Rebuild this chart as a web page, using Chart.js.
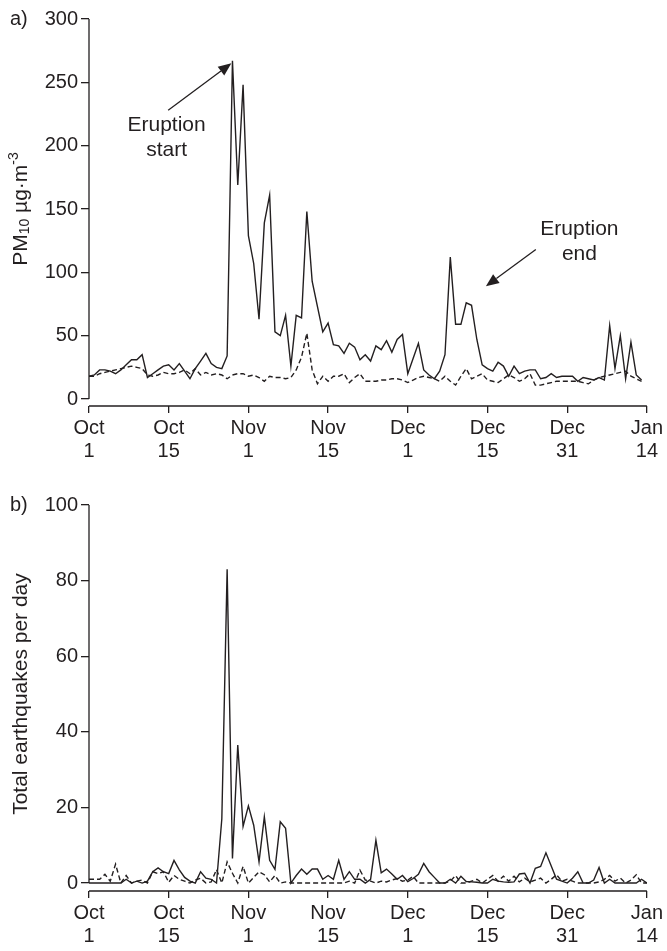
<!DOCTYPE html>
<html>
<head>
<meta charset="utf-8">
<script src="https://cdn.jsdelivr.net/npm/chart.js@4/dist/chart.umd.min.js"></script>
<style>
  body { margin: 0; background: #fff; }
  canvas { display: block; }
</style>
</head>
<body>
<canvas id="pmChart" width="667" height="466"></canvas>
<canvas id="quakeChart" width="667" height="485"></canvas>
<script>
// x axis: day index 0..105, labelled every 15 days
const tickMonths = ['Oct', 'Oct', 'Nov', 'Nov', 'Dec', 'Dec', 'Dec', 'Jan'];
const tickDays = ['1', '15', '1', '15', '1', '15', '31', '14'];

// a) PM10, solid and dashed series (one value per day)
const pmSolid = [18, 19, 23, 23, 22, 20, 23, 27, 31, 31, 35, 17, 20, 23, 26, 27, 23, 28, 22, 16,
  24, 30, 36, 28, 25, 24, 34, 267, 169, 248, 129, 107, 63, 139, 161, 53, 50, 66, 26, 66,
  64, 148, 93, 73, 53, 60, 43, 42, 36, 44, 41, 31, 35, 30, 42, 39, 46, 37, 47, 51,
  20, 32, 44, 23, 19, 16, 22, 35, 112, 59, 59, 76, 74, 47, 27, 24, 22, 29, 26, 18,
  26, 20, 22, 23, 23, 16, 17, 20, 17, 18, 18, 18, 14, 17, 16, 15, 17, 15, 58, 24,
  50, 16, 45, 19, 15];
const pmDashed = [18, 18, 20, 21, 22, 23, 24, 25, 26, 25, 24, 19, 18, 19, 21, 20, 20, 21, 23, 20,
  24, 19, 21, 19, 20, 19, 16, 19, 20, 20, 18, 19, 17, 14, 18, 17, 17, 16, 17, 23,
  33, 52, 23, 12, 18, 14, 18, 18, 20, 13, 17, 20, 14, 14, 14, 15, 15, 16, 16, 15,
  13, 15, 17, 18, 17, 16, 14, 18, 14, 11, 18, 24, 16, 18, 20, 15, 14, 13, 16, 19,
  17, 14, 16, 20, 11, 11, 12, 13, 14, 14, 14, 14, 14, 13, 12, 15, 17, 18, 19, 20,
  21, 22, 18, 16, 14];

// b) earthquakes per day, solid and dashed series
const quakeSolid = [0, 0, 0, 0, 0, 0, 0, 1, 0, 0.5, 0, 0.5, 3, 4, 3, 2.5, 6, 3.5, 1.5, 0.5,
  0, 3, 1.3, 1, 0, 17, 83, 6.5, 36.5, 15, 20.4, 15.3, 5.6, 17.5, 6, 3.6, 16.2, 14.5, 0, 2,
  3.7, 2.3, 3.7, 3.7, 1, 2, 1, 6, 1, 3, 1, 1, 0, 1, 11.3, 2.7, 3.7, 2.4, 1, 2,
  0.4, 1.2, 2.3, 5.2, 3, 1.5, 0, 0, 1, 0, 1.8, 0.4, 0.3, 0.2, 0, 0, 1, 0.5, 0.3, 0.2,
  0.3, 2.4, 2.6, 0, 3.9, 4.4, 8, 4.5, 1, 0.5, 0, 1.3, 3, 0, 0, 0.8, 4.1, 0, 1, 0,
  0, 0, 0, 0, 1, 0];
const quakeDashed = [1, 1, 1, 2.3, 0.5, 5, 0, 2, 0, 0.5, 0.8, 0, 3, 2.5, 3, 0.2, 2, 1, 0.5, 0,
  0.8, 1.3, 0, 0.3, 3.6, 0, 5.6, 2.6, 0, 4.4, 0, 1.5, 3, 2.2, 0.3, 2, 0, 0.3, 0, 0,
  0, 0, 0, 0, 0, 0, 0, 0, 0, 0.5, 0, 3.4, 0.8, 0.5, 0, 0.5, 0.3, 0.8, 1.2, 0.5,
  0.8, 1.8, 0, 0, 0, 0, 0, 0, 0.5, 2, 0, 0, 0.5, 1, 0, 1, 2, 0.5, 1.8, 0.5,
  1.8, 0.3, 1.3, 0.3, 0.8, 1.3, 0, 1, 2.2, 0.5, 1, 0.5, 0, 0, 0, 0, 0.3, 1, 2, 0.5,
  1.3, 0, 0.8, 2.2, 0, 0];

const ink = '#231f20';
const FONT = "'Liberation Sans', Arial, sans-serif";

function pts(arr) {
  return arr.map((v, i) => ({ x: i, y: v }));
}

// axis lines (detached, R style), panel letter, y title with sub/superscripts, arrows
const framePlugin = {
  id: 'frame',
  afterDraw(chart, args, o) {
    const { ctx, chartArea: a, scales: { x, y } } = chart;
    ctx.save();
    ctx.strokeStyle = ink;
    ctx.fillStyle = ink;
    ctx.lineWidth = 1.3;
    ctx.beginPath();
    ctx.moveTo(a.left, y.getPixelForValue(o.yTop));
    ctx.lineTo(a.left, y.getPixelForValue(0));
    ctx.moveTo(x.getPixelForValue(0), a.bottom);
    ctx.lineTo(x.getPixelForValue(105), a.bottom);
    ctx.stroke();

    ctx.font = '20px ' + FONT;
    ctx.textBaseline = 'middle';
    ctx.textAlign = 'left';
    ctx.fillText(o.letter, 10, y.getPixelForValue(o.yTop));

    // rotated y title
    let total = 0;
    o.title.forEach(p => {
      ctx.font = p.size + 'px ' + FONT;
      total += ctx.measureText(p.t).width;
    });
    ctx.save();
    ctx.translate(21, (a.top + y.getPixelForValue(0)) / 2);
    ctx.rotate(-Math.PI / 2);
    let cx = -total / 2;
    o.title.forEach(p => {
      ctx.font = p.size + 'px ' + FONT;
      ctx.fillText(p.t, cx, p.dy);
      cx += ctx.measureText(p.t).width;
    });
    ctx.restore();

    (o.notes || []).forEach(n => {
      ctx.font = '21px ' + FONT;
      ctx.textAlign = 'center';
      n.text.forEach((t, i) => {
        ctx.fillText(t, x.getPixelForValue(n.tx), y.getPixelForValue(n.ty) + i * 25);
      });
      const x0 = x.getPixelForValue(n.from[0]), y0 = y.getPixelForValue(n.from[1]);
      const x1 = x.getPixelForValue(n.to[0]), y1 = y.getPixelForValue(n.to[1]);
      const ang = Math.atan2(y1 - y0, x1 - x0);
      const len = 13, half = 5.5;
      const bx = x1 - len * Math.cos(ang), by = y1 - len * Math.sin(ang);
      ctx.lineWidth = 1.3;
      ctx.beginPath();
      ctx.moveTo(x0, y0);
      ctx.lineTo(bx, by);
      ctx.stroke();
      ctx.beginPath();
      ctx.moveTo(x1, y1);
      ctx.lineTo(bx + half * Math.sin(ang), by - half * Math.cos(ang));
      ctx.lineTo(bx - half * Math.sin(ang), by + half * Math.cos(ang));
      ctx.closePath();
      ctx.fill();
    });
    ctx.restore();
  }
};

function makeChart(id, solid, dashed, yMin, yMax, yStep, topPad, frame) {
  return new Chart(document.getElementById(id), {
    type: 'line',
    data: {
      datasets: [
        { data: pts(solid), borderColor: ink, borderWidth: 1.4, pointRadius: 0, tension: 0 },
        { data: pts(dashed), borderColor: ink, borderWidth: 1.4, borderDash: [5, 3], pointRadius: 0, tension: 0 }
      ]
    },
    options: {
      responsive: false,
      animation: false,
      events: [],
      layout: { padding: { left: 0, right: 19, top: topPad, bottom: 0 } },
      plugins: { legend: { display: false }, tooltip: { enabled: false }, frame: frame },
      scales: {
        x: {
          type: 'linear', min: 0, max: 105,
          afterFit: s => { s.height = 60; },
          border: { display: false },
          grid: { drawOnChartArea: false, drawTicks: true, tickLength: 7, color: ink, lineWidth: 1.3 },
          ticks: {
            stepSize: 15, autoSkip: false, maxRotation: 0, padding: 4, color: ink,
            font: { family: FONT, size: 20, lineHeight: 1.15 },
            callback: v => [tickMonths[v / 15], tickDays[v / 15]]
          }
        },
        y: {
          min: yMin, max: yMax,
          afterFit: s => { s.width = 89; },
          border: { display: false },
          grid: { drawOnChartArea: false, drawTicks: true, tickLength: 8, color: ink, lineWidth: 1.3 },
          ticks: {
            stepSize: yStep, includeBounds: false, padding: 3, color: ink,
            font: { family: FONT, size: 20 }
          }
        }
      }
    },
    plugins: [framePlugin]
  });
}

makeChart('pmChart', pmSolid, pmDashed, -5.5, 300, 50, 19, {
  letter: 'a)', yTop: 300,
  title: [
    { t: 'PM', size: 21, dy: 0 }, { t: '10', size: 14, dy: 4 },
    { t: ' µg·m', size: 21, dy: 0 }, { t: '-3', size: 14, dy: -7 }
  ],
  notes: [
    { text: ['Eruption', 'start'], tx: 14.6, ty: 216, from: [14.9, 228], to: [26.8, 265] },
    { text: ['Eruption', 'end'], tx: 92.3, ty: 134, from: [84.1, 118], to: [74.7, 89] }
  ]
});

makeChart('quakeChart', quakeSolid, quakeDashed, -2.1, 100, 20, 39, {
  letter: 'b)', yTop: 100,
  title: [{ t: 'Total earthquakes per day', size: 21, dy: 0 }]
});
</script>
</body>
</html>
